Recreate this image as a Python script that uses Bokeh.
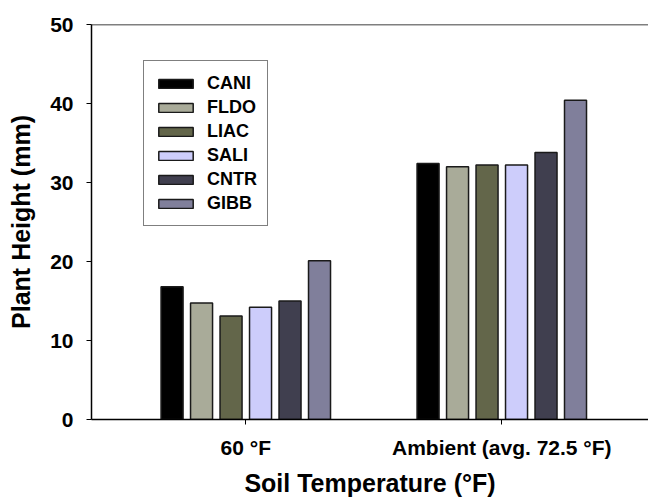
from bokeh.plotting import figure
from bokeh.models import Range1d, FixedTicker, Span, Legend, LegendItem, ColumnDataSource
from bokeh.embed import file_html
from bokeh.resources import INLINE

treatments = ["60 °F", "Ambient (avg. 72.5 °F)"]
series = ["CANI", "FLDO", "LIAC", "SALI", "CNTR", "GIBB"]
colors = ["#000000", "#a9ab99", "#63664a", "#cdcdfb", "#403f4f", "#807f9b"]
CANI = [16.8, 32.4]
FLDO = [14.75, 32.0]
LIAC = [13.1, 32.2]
SALI = [14.2, 32.2]
CNTR = [15.0, 33.8]
GIBB = [20.1, 40.4]
values = [CANI, FLDO, LIAC, SALI, CNTR, GIBB]
y_ticks = [0, 10, 20, 30, 40, 50]

FONT = "Liberation Sans"

p = figure(width=648, height=500, output_backend="svg", toolbar_location=None,
           x_range=Range1d(0.3973, 2.5731), y_range=Range1d(0, 50),
           min_border_left=91, min_border_top=24, min_border_bottom=81, min_border_right=0)
p.outline_line_color = None
p.xgrid.visible = False
p.ygrid.visible = False
p.background_fill_color = "white"

pitch = 0.1152
bw = 0.086
items = []
for i, (name, vals, col) in enumerate(zip(series, values, colors)):
    xs = [k + 1 + (i - 2.5) * pitch for k in range(len(treatments))]
    src = ColumnDataSource(dict(x=xs, top=vals))
    r = p.vbar(x="x", top="top", bottom=0, width=bw, source=src,
               fill_color=col, line_color="#1a1a1a", line_width=1.5)
    items.append(LegendItem(label=name, renderers=[r]))

p.add_layout(Span(location=50, dimension="width", line_color="black", line_width=1.5))

legend = Legend(items=items, location=(52, 193), padding=10, spacing=0,
                glyph_width=43, glyph_height=11, label_height=24, label_standoff=10,
                label_text_font=FONT, label_text_font_style="bold", label_text_font_size="18px",
                label_text_color="black",
                border_line_color="black", border_line_width=1.5, background_fill_alpha=1,
                margin=0)
p.add_layout(legend)

# x axis
p.xaxis.ticker = FixedTicker(ticks=[1, 2])
p.xaxis.major_label_overrides = {1: treatments[0], 2: treatments[1]}
p.xaxis.minor_tick_line_color = None
p.xaxis.major_tick_in = 0
p.xaxis.major_tick_out = 5
p.xaxis.axis_line_width = 1.5
p.xaxis.major_label_text_font = FONT
p.xaxis.major_label_text_font_style = "bold"
p.xaxis.major_label_text_font_size = "21px"
p.xaxis.major_label_text_color = "black"
p.xaxis.major_label_standoff = 11
p.xaxis.axis_label = "Soil Temperature (°F)"
p.xaxis.axis_label_text_font = FONT
p.xaxis.axis_label_text_font_style = "bold"
p.xaxis.axis_label_text_font_size = "25px"
p.xaxis.axis_label_text_color = "black"
p.xaxis.axis_label_standoff = 7

# y axis
p.yaxis.ticker = FixedTicker(ticks=y_ticks)
p.yaxis.minor_tick_line_color = None
p.yaxis.major_tick_in = 0
p.yaxis.major_tick_out = 5
p.yaxis.axis_line_width = 1.5
p.yaxis.major_label_text_font = FONT
p.yaxis.major_label_text_font_style = "bold"
p.yaxis.major_label_text_font_size = "21px"
p.yaxis.major_label_text_color = "black"
p.yaxis.major_label_standoff = 13
p.yaxis.axis_label = "Plant Height (mm)"
p.yaxis.axis_label_text_font = FONT
p.yaxis.axis_label_text_font_style = "bold"
p.yaxis.axis_label_text_font_size = "25px"
p.yaxis.axis_label_text_color = "black"
p.yaxis.axis_label_standoff = 12

open("out.html", "w").write(file_html(p, INLINE))
